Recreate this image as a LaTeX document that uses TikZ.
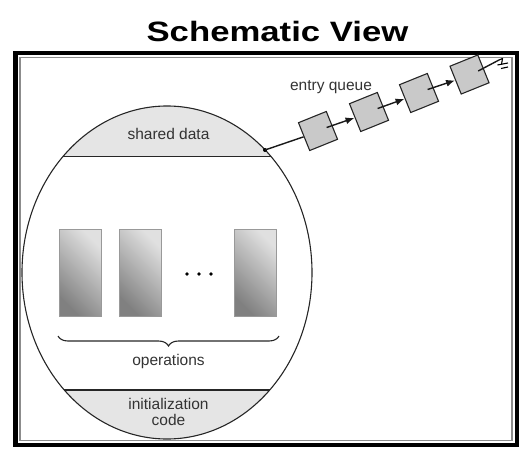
\documentclass[tikz,border=0pt]{standalone}
\usepackage{fontspec}
\setmainfont{Liberation Sans}
\usetikzlibrary{arrows.meta,calc,decorations.pathreplacing}
\begin{document}
\begin{tikzpicture}[x=1pt,y=-1pt,
  txt/.style={font=\fontsize{15.5}{16.5}\selectfont, text=black!80, inner sep=0pt, anchor=base},
  qnode/.style={draw=black!85, fill=black!21, line width=1.1pt, minimum size=30pt, inner sep=0pt, rotate=22},
  oprect/.style={draw=black!40, line width=0.8pt, top color=black!12, bottom color=black!50, shading angle=-45},
  link/.style={line width=1.4pt, draw=black!90},
  ptr/.style={link, -{Latex[length=9pt,width=7pt]}},
  band/.style={fill=black!10},
  outline/.style={line width=1.1pt, draw=black!85},
]
\useasboundingbox (0,0) rectangle (529,454);

% title
\node[font=\bfseries\fontsize{28}{28}\selectfont, anchor=base, xscale=1.24, inner sep=0pt] (title) at (277.5,42) {Schematic View};

% double frame
\draw[line width=4.5pt] (15.5,53) rectangle (517,445);
\draw[line width=1.5pt, black!45] (20,57.5) rectangle (512,440.5);

% monitor body
\coordinate (mc) at (167,272.5);
\begin{scope}
  \clip (mc) ellipse [x radius=145pt, y radius=166.5pt];
  \fill[band] (0,0) rectangle (529,156.7);
  \fill[band] (0,390) rectangle (529,454);
  \draw[outline] (0,156.7) -- (529,156.7);
  \draw[outline] (0,390) -- (529,390);
\end{scope}
\draw[outline] (mc) ellipse [x radius=145pt, y radius=166.5pt];

\node[txt] (shared) at (168.5,139.3) {shared data};
\node[txt] (init) at (168.5,409.3) {initialization};
\node[txt] (code) at (168.5,425.7) {code};

% operations
\draw[oprect] (59,229) rectangle (101,316);
\draw[oprect] (119,229) rectangle (161,316);
\draw[oprect] (234,229) rectangle (276,316);
\foreach \x in {187,199,211} \fill[black] (\x,274) circle (1.9pt);
\draw[decorate, decoration={brace, mirror, amplitude=10pt}, line width=1.1pt, black!85] (58,336) -- (279,336);
\node[txt] (ops) at (168.5,365.5) {operations};

% entry queue
\node[txt] (eq) at (331,90.5) {entry queue};
\coordinate (entry) at (265,150);
\fill[black] (entry) circle (2pt);
\node[qnode] (q1) at (318,131) {};
\node[qnode] (q2) at (369,112) {};
\node[qnode] (q3) at (419,93) {};
\node[qnode] (q4) at (469.5,74.5) {};
\draw[link] (entry) -- (q1.west);
\draw[ptr] ($(q1.center)!0.6!(q1.east)$) -- (q2.west);
\draw[ptr] ($(q2.center)!0.6!(q2.east)$) -- (q3.west);
\draw[ptr] ($(q3.center)!0.6!(q3.east)$) -- (q4.west);
\coordinate (nil) at (499,60);
\draw[link] ($(q4.center)!0.6!(q4.east)$) -- (nil);
\draw[line width=1.1pt, line join=round] (nil) -- (502.5,58.5) -- (501.5,64.5);
\draw[line width=1.1pt] (497.5,65) -- (508,63);
\draw[line width=1.1pt] (501,68.5) -- (508,67);
\end{tikzpicture}
\end{document}
